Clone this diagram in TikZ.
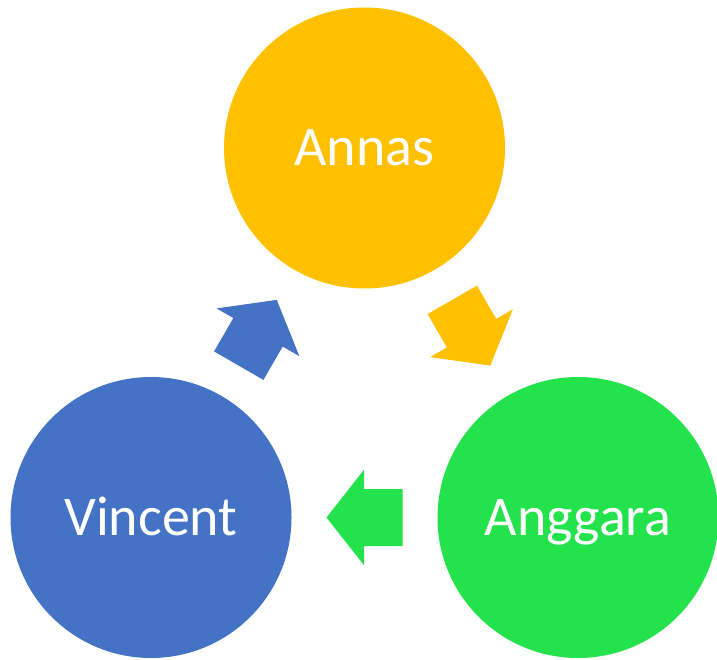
\documentclass[tikz,border=0pt]{standalone}
\usepackage{fontspec}
\setmainfont{Carlito}
\usetikzlibrary{calc}
\definecolor{annasorange}{HTML}{FFC000}
\definecolor{anggaragreen}{HTML}{24E24C}
\definecolor{vincentblue}{HTML}{4472C4}
\tikzset{
  person/.style={circle,minimum size=281pt,inner sep=0pt,text=white,
    font=\fontsize{56}{60}\selectfont,text height=36pt,text depth=0pt},
  cyclearrow/.pic={
    \fill[pic actions] (-38,-28.5)--(0.5,-28.5)--(0.5,-47.75)--(38,0)
      --(0.5,47.75)--(0.5,28.5)--(-38,28.5)--cycle;
  }
}
\begin{document}
\begin{tikzpicture}[x=1pt,y=1pt]
\useasboundingbox (0,0) rectangle (717,659);
\node[person,fill=annasorange](annas) at(364.5,511){Annas};
\node[person,fill=anggaragreen](anggara) at(578,141.5){Anggara};
\node[person,fill=vincentblue](vincent) at(151,141.5){Vincent};
% arrows of the cycle
\path ($(annas)!0.5!(anggara)$) pic[rotate=-60,fill=annasorange]{cyclearrow};
\path ($(anggara)!0.5!(vincent)$) pic[rotate=180,fill=anggaragreen]{cyclearrow};
\path ($(vincent)!0.5!(annas)$) pic[rotate=60,fill=vincentblue]{cyclearrow};
\end{tikzpicture}
\end{document}
